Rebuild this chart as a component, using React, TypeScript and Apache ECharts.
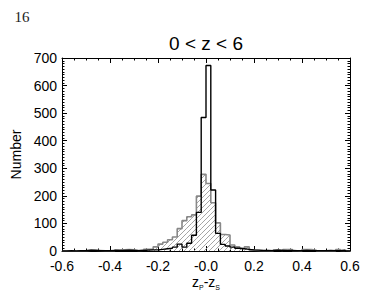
import React, { useEffect, useRef } from 'react';
import * as echarts from 'echarts';

// Histogram bins: left edge of first bin and bin width (redshift difference units)
const binStart = -0.6;
const binWidth = 0.02;

// Grey hatched histogram (all objects), counts per 0.02 bin from -0.60 to 0.60
const greyCounts = [
  0, 0, 0, 1, 1, 3, 3, 2, 1, 1,
  1, 4, 4, 5, 4, 2, 3, 6, 6, 15,
  25, 32, 41, 51, 81, 110, 124, 131, 199, 278,
  245, 175, 102, 60, 58, 22, 15, 9, 15, 3,
  2, 1, 1, 0, 4, 2, 5, 5, 1, 0,
  5, 5, 3, 0, 0, 1, 0, 5, 2, 0,
];

// Black outlined histogram, counts per 0.02 bin from -0.60 to 0.60
const blackCounts = [
  0, 1, 0, 1, 1, 3, 2, 1, 1, 1,
  2, 1, 2, 3, 2, 1, 2, 3, 4, 4,
  6, 8, 10, 14, 25, 14, 28, 57, 140, 484,
  673, 221, 64, 24, 18, 14, 10, 8, 6, 4,
  3, 2, 2, 1, 3, 2, 1, 2, 1, 1,
  2, 1, 1, 1, 1, 2, 1, 1, 3, 0,
];

const xTickLabels = ['-0.6', '-0.4', '-0.2', '-0.0', '0.2', '0.4', '0.6'];
const yTickLabels = ['0', '100', '200', '300', '400', '500', '600', '700'];

const titleText = '0 < z < 6';
const pageNumber = '16';
const yName = 'Number';

const FONT = "'Liberation Sans', Arial, Helvetica, sans-serif";

function stepPoints(counts: number[]) {
  const pts = counts.map((v, i) => [binStart + i * binWidth, v]);
  pts.push([binStart + counts.length * binWidth, counts[counts.length - 1]]);
  return pts;
}

function binRects(counts: number[]) {
  return counts.map((v, i) => [binStart + i * binWidth, binStart + (i + 1) * binWidth, v]);
}

export default function App() {
  const ref = useRef<HTMLDivElement>(null);

  useEffect(() => {
    if (!ref.current) return;
    const chart = echarts.init(ref.current, undefined, { renderer: 'svg' });

    const axisCommon = {
      type: 'value' as const,
      splitLine: { show: false },
      axisLine: { show: true, onZero: false, lineStyle: { color: '#000', width: 1 } },
      axisTick: { show: true, inside: true, length: 5, lineStyle: { color: '#000', width: 1 } },
      minorTick: { show: true, length: 2.5, lineStyle: { color: '#000', width: 1 } },
      minorSplitLine: { show: false },
    };

    const option: any = {
      animation: false,
      backgroundColor: '#fff',
      grid: { left: 62, top: 58, width: 288, height: 193, containLabel: false },
      xAxis: [
        {
          ...axisCommon,
          position: 'bottom',
          min: -0.6,
          max: 0.6,
          interval: 0.2,
          minorTick: { ...axisCommon.minorTick, splitNumber: 4 },
          axisLabel: {
            show: true,
            margin: 8,
            fontSize: 14,
            fontFamily: FONT,
            color: '#000',
            formatter: (_v: number, i: number) => xTickLabels[i] ?? '',
          },
        },
        {
          ...axisCommon,
          position: 'top',
          min: -0.6,
          max: 0.6,
          interval: 0.2,
          minorTick: { ...axisCommon.minorTick, splitNumber: 4 },
          axisLabel: { show: false },
        },
      ],
      yAxis: [
        {
          ...axisCommon,
          position: 'left',
          min: 0,
          max: 700,
          interval: 100,
          minorTick: { ...axisCommon.minorTick, splitNumber: 10 },
          axisLabel: {
            show: true,
            margin: 5,
            fontSize: 14,
            fontFamily: FONT,
            color: '#000',
            formatter: (_v: number, i: number) => yTickLabels[i] ?? '',
          },
          name: yName,
          nameLocation: 'middle',
          nameGap: 39,
          nameTextStyle: { fontSize: 14, fontFamily: FONT, color: '#000' },
        },
        {
          ...axisCommon,
          position: 'right',
          min: 0,
          max: 700,
          interval: 100,
          minorTick: { ...axisCommon.minorTick, splitNumber: 10 },
          axisLabel: { show: false },
        },
      ],
      graphic: [
        {
          type: 'text',
          x: 22,
          y: 17,
          style: {
            text: pageNumber,
            fontSize: 15,
            fontFamily: "'Liberation Serif', 'Times New Roman', serif",
            fill: '#222',
            align: 'center',
            verticalAlign: 'middle',
          },
        },
        {
          type: 'text',
          x: 206,
          y: 43,
          style: {
            text: titleText,
            fontSize: 19,
            fontFamily: FONT,
            fill: '#000',
            align: 'center',
            verticalAlign: 'middle',
          },
        },
        {
          type: 'text',
          x: 206,
          y: 275,
          style: {
            text: '{a|z}{b|P}{a|-z}{b|S}',
            align: 'center',
            verticalAlign: 'top',
            rich: {
              a: { fontSize: 14, fontFamily: FONT, fill: '#000', lineHeight: 16, verticalAlign: 'top' },
              b: { fontSize: 7, fontFamily: FONT, fill: '#000', lineHeight: 16, verticalAlign: 'top', padding: [9, 0, 0, 0] },
            },
          },
        },
      ],
      series: [
        {
          type: 'custom',
          xAxisIndex: 0,
          yAxisIndex: 0,
          clip: true,
          silent: true,
          data: binRects(greyCounts),
          encode: { x: [0, 1], y: 2 },
          renderItem: (_params: any, api: any) => {
            const x0 = api.value(0);
            const x1 = api.value(1);
            const v = api.value(2);
            const tl = api.coord([x0, v]);
            const br = api.coord([x1, 0]);
            const left = tl[0];
            const top = tl[1];
            const right = br[0];
            const bottom = br[1];
            const children: any[] = [];
            const d = 5;
            for (let c = Math.ceil((left + top) / d) * d; c <= right + bottom; c += d) {
              const xa = Math.max(left, c - bottom);
              const xb = Math.min(right, c - top);
              if (xb > xa) {
                children.push({
                  type: 'line',
                  shape: { x1: xa, y1: c - xa, x2: xb, y2: c - xb },
                  style: { stroke: '#9a9a9a', lineWidth: 0.9 },
                });
              }
            }
            return { type: 'group', children };
          },
        },
        {
          type: 'line',
          xAxisIndex: 0,
          yAxisIndex: 0,
          step: 'end',
          symbol: 'none',
          data: stepPoints(greyCounts),
          lineStyle: { color: '#888', width: 1.6 },
          silent: true,
        },
        {
          type: 'line',
          xAxisIndex: 0,
          yAxisIndex: 0,
          step: 'end',
          symbol: 'none',
          data: stepPoints(blackCounts),
          lineStyle: { color: '#000', width: 1.4 },
          silent: true,
        },
      ],
    };

    chart.setOption(option);
    return () => chart.dispose();
  }, []);

  return (
    <div
      ref={ref}
      style={{ position: 'fixed', left: 0, top: 0, width: 367, height: 295, background: '#fff' }}
    />
  );
}
